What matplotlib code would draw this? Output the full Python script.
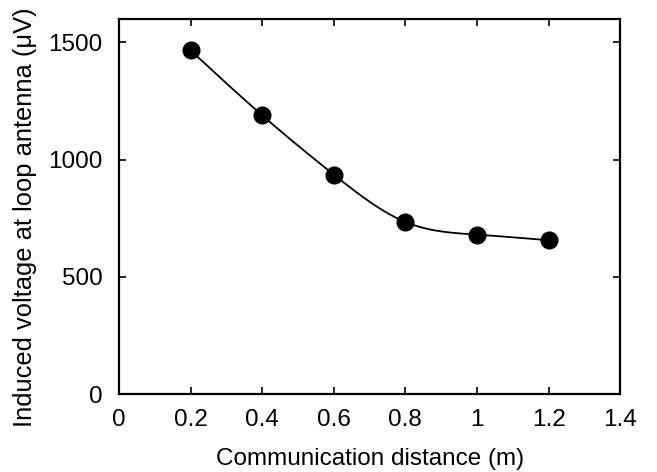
import numpy as np
import matplotlib
matplotlib.use("Agg")
import matplotlib.pyplot as plt

plt.rcParams['font.family'] = ['Liberation Sans', 'DejaVu Sans']

distance = [0.2, 0.4, 0.6, 0.8, 1.0, 1.2]
voltage = [1466, 1189, 936, 734, 680, 656]
xticks = [0, 0.2, 0.4, 0.6, 0.8, 1.0, 1.2, 1.4]
xticklabels = ['0', '0.2', '0.4', '0.6', '0.8', '1', '1.2', '1.4']
yticks = [0, 500, 1000, 1500]


def natural_spline(x, y, xs):
    x = np.asarray(x, float); y = np.asarray(y, float)
    n = len(x)
    h = np.diff(x)
    A = np.zeros((n, n)); b = np.zeros(n)
    A[0, 0] = 1; A[-1, -1] = 1
    for i in range(1, n - 1):
        A[i, i - 1] = h[i - 1]
        A[i, i] = 2 * (h[i - 1] + h[i])
        A[i, i + 1] = h[i]
        b[i] = 3 * ((y[i + 1] - y[i]) / h[i] - (y[i] - y[i - 1]) / h[i - 1])
    c = np.linalg.solve(A, b)
    out = np.empty_like(xs)
    for k, xv in enumerate(xs):
        i = min(max(np.searchsorted(x, xv) - 1, 0), n - 2)
        dx = xv - x[i]
        bi = (y[i + 1] - y[i]) / h[i] - h[i] * (2 * c[i] + c[i + 1]) / 3
        di = (c[i + 1] - c[i]) / (3 * h[i])
        out[k] = y[i] + bi * dx + c[i] * dx ** 2 + di * dx ** 3
    return out


fig = plt.figure(figsize=(6.57, 4.72), dpi=100)
ax = fig.add_axes([0.181, 0.165, 0.763, 0.795])

xs = np.linspace(distance[0], distance[-1], 300)
ax.plot(xs, natural_spline(distance, voltage, xs), color='black', lw=1.3)
ax.plot(distance, voltage, 'o', color='black', markersize=12)

ax.set_xlim(0, 1.4)
ax.set_ylim(0, 1600)
ax.set_xticks(xticks)
ax.set_xticklabels(xticklabels)
ax.set_yticks(yticks)
ax.tick_params(direction='in', top=True, right=True, labelsize=17.5,
               length=5, width=1.2)
ax.tick_params(axis='x', pad=11)
ax.tick_params(axis='y', pad=12)
for s in ax.spines.values():
    s.set_linewidth(1.6)
ax.set_xlabel('Communication distance (m)', fontsize=17.5, labelpad=12)
ax.set_ylabel('Induced voltage at loop antenna (μV)', fontsize=18.4,
              labelpad=8, y=0.472)

fig.savefig('out.png', dpi=100)
